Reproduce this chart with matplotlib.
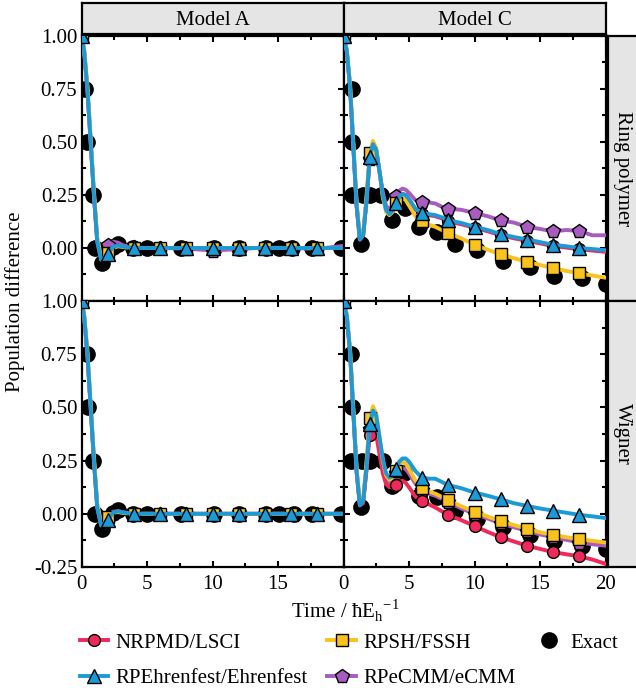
import matplotlib
matplotlib.use("Agg")
import matplotlib.pyplot as plt
from matplotlib.lines import Line2D

plt.rcParams['font.family'] = ['Liberation Serif', 'DejaVu Serif']
plt.rcParams['mathtext.fontset'] = 'custom'
plt.rcParams['mathtext.rm'] = 'Liberation Serif'
plt.rcParams['font.size'] = 15

# ---------------- data ----------------
models = ["Model A", "Model C"]
samplings = ["Ring polymer", "Wigner"]

# time grid of the method curves
t_A = [0, 0.2, 0.45, 0.7, 0.95, 1.2, 1.5, 1.8, 2.0, 2.4, 2.8, 3.2, 4, 5, 6, 8, 10, 12, 14, 16, 18, 20]
t_C = [0, 0.25, 0.5, 0.75, 1.0, 1.25, 1.5, 1.75, 2.0, 2.25, 2.5, 2.75, 3.0, 3.25, 3.5, 3.75,
       4.0, 4.25, 4.5, 4.75, 5.0, 5.5, 6.0, 6.5, 7.0, 7.5, 8, 9, 10, 11, 12, 13, 14, 15, 16, 17, 18, 19, 20]

# Model A, ring polymer
A_rp_nrpmd = [1.0, 0.93, 0.75, 0.5, 0.25, 0.03, -0.055, -0.045, -0.03, 0.005, 0.012, 0.006, 0, 0, 0, 0, 0, 0, 0, 0, 0, 0]
A_rp_rpsh = [1.0, 0.94, 0.77, 0.52, 0.27, 0.05, -0.045, -0.04, -0.025, 0.0, 0.008, 0.004, 0, 0, 0, 0, 0, 0, 0, 0, 0, 0]
A_rp_ehr = [1.0, 0.93, 0.75, 0.5, 0.25, 0.03, -0.055, -0.045, -0.03, 0.005, 0.012, 0.006, 0, 0, 0, 0, 0, 0, 0, 0, 0, 0]
A_rp_ecmm = [1.0, 0.93, 0.75, 0.5, 0.25, 0.04, -0.04, -0.01, 0.015, 0.03, 0.025, 0.012, 0.003, 0.0, 0.0,
             -0.003, -0.012, -0.005, 0.002, 0.0, -0.004, 0.01]
# Model A, Wigner
A_w_nrpmd = [1.0, 0.93, 0.75, 0.5, 0.25, 0.03, -0.055, -0.045, -0.03, 0.005, 0.012, 0.006, 0, 0, 0, 0, 0, 0, 0, 0, 0, 0]
A_w_rpsh = [1.0, 0.94, 0.77, 0.52, 0.27, 0.05, -0.04, -0.03, -0.015, 0.005, 0.008, 0.004, 0, 0, 0, 0, 0, 0, 0, 0, 0, 0]
A_w_ehr = [1.0, 0.93, 0.75, 0.5, 0.25, 0.03, -0.055, -0.045, -0.03, 0.005, 0.012, 0.006, 0, 0, 0, 0, 0, 0, 0, 0, 0, 0]
A_w_ecmm = [1.0, 0.93, 0.75, 0.5, 0.25, 0.035, -0.05, -0.035, -0.015, 0.01, 0.012, 0.006, 0, 0, 0, 0, 0, 0, 0, 0, 0, 0]

# Model C, ring polymer
C_rp_nrpmd = [1.0, 0.93, 0.76, 0.48, 0.2, 0.04, 0.06, 0.22, 0.42, 0.49, 0.46, 0.36, 0.25, 0.18, 0.16, 0.175,
              0.21, 0.24, 0.255, 0.25, 0.23, 0.18, 0.16, 0.155, 0.15, 0.14, 0.125, 0.112, 0.095, 0.079, 0.06,
              0.046, 0.034, 0.022, 0.009, 0.002, -0.006, -0.012, -0.018]
C_rp_rpsh = [1.0, 0.94, 0.78, 0.5, 0.22, 0.05, 0.07, 0.24, 0.45, 0.505, 0.47, 0.36, 0.24, 0.17, 0.155, 0.17,
             0.21, 0.235, 0.24, 0.225, 0.2, 0.15, 0.125, 0.11, 0.1, 0.085, 0.07, 0.045, 0.015, -0.008, -0.03,
             -0.048, -0.065, -0.08, -0.095, -0.108, -0.12, -0.13, -0.14]
C_rp_ehr = [1.0, 0.93, 0.76, 0.48, 0.2, 0.04, 0.06, 0.22, 0.43, 0.49, 0.46, 0.36, 0.25, 0.18, 0.16, 0.175,
            0.21, 0.24, 0.255, 0.25, 0.23, 0.185, 0.165, 0.16, 0.155, 0.145, 0.13, 0.118, 0.1, 0.085, 0.065,
            0.052, 0.04, 0.028, 0.015, 0.008, 0.0, -0.005, -0.01]
C_rp_ecmm = [1.0, 0.93, 0.76, 0.48, 0.2, 0.04, 0.06, 0.22, 0.42, 0.49, 0.46, 0.36, 0.26, 0.2, 0.18, 0.2,
             0.245, 0.27, 0.28, 0.275, 0.26, 0.225, 0.215, 0.215, 0.21, 0.195, 0.185, 0.18, 0.165, 0.15, 0.13,
             0.12, 0.1, 0.09, 0.078, 0.085, 0.08, 0.06, 0.06]
# Model C, Wigner
C_w_nrpmd = [1.0, 0.93, 0.76, 0.48, 0.2, 0.04, 0.05, 0.2, 0.37, 0.4, 0.37, 0.28, 0.19, 0.14, 0.125, 0.125,
             0.135, 0.15, 0.155, 0.145, 0.125, 0.08, 0.06, 0.045, 0.03, 0.012, -0.005, -0.03, -0.057, -0.085,
             -0.11, -0.13, -0.15, -0.165, -0.18, -0.19, -0.2, -0.215, -0.235]
C_w_rpsh = [1.0, 0.94, 0.78, 0.5, 0.22, 0.05, 0.07, 0.24, 0.45, 0.505, 0.47, 0.36, 0.25, 0.18, 0.16, 0.17,
            0.2, 0.23, 0.245, 0.235, 0.21, 0.155, 0.12, 0.105, 0.095, 0.08, 0.065, 0.035, 0.01, -0.013, -0.035,
            -0.053, -0.07, -0.087, -0.1, -0.11, -0.12, -0.127, -0.135]
C_w_ehr = [1.0, 0.93, 0.76, 0.48, 0.2, 0.04, 0.06, 0.22, 0.42, 0.485, 0.46, 0.36, 0.26, 0.19, 0.17, 0.18,
           0.21, 0.245, 0.26, 0.26, 0.245, 0.2, 0.17, 0.165, 0.165, 0.15, 0.135, 0.12, 0.1, 0.085, 0.068,
           0.05, 0.037, 0.025, 0.015, 0.005, -0.005, -0.012, -0.02]
C_w_ecmm = [1.0, 0.93, 0.76, 0.48, 0.2, 0.04, 0.06, 0.21, 0.4, 0.46, 0.43, 0.33, 0.22, 0.16, 0.145, 0.16,
            0.19, 0.21, 0.215, 0.21, 0.19, 0.14, 0.11, 0.095, 0.085, 0.07, 0.055, 0.025, 0.0, -0.022, -0.045,
            -0.063, -0.08, -0.097, -0.11, -0.122, -0.135, -0.143, -0.15]

# exact results
A_rp_exact_t = [0.3, 0.4, 0.9, 1.0, 1.6, 2.4, 2.75, 3.9, 5.0, 7.6, 10.1, 12, 14.1, 15.1, 16.1, 17.6, 19.8]
A_rp_exact = [0.75, 0.5, 0.25, 0.0, -0.07, 0.005, 0.02, 0, 0, 0, 0, 0, 0, 0, 0, 0, 0]
A_w_exact_t = [0.4, 0.5, 0.9, 1.0, 1.6, 2.4, 2.75, 3.9, 5.0, 7.6, 10.1, 12, 14.1, 15.1, 16.2, 17.6, 19.8]
A_w_exact = [0.75, 0.5, 0.25, 0.0, -0.07, 0.005, 0.02, 0, 0, 0, 0, 0, 0, 0, 0, 0, 0]
C_rp_exact_t = [0.65, 0.65, 0.65, 1.3, 1.5, 2.0, 2.9, 3.7, 4.7, 5.8, 7.1, 8.5, 10.2, 12.2, 14.2, 16.1, 18.2, 20]
C_rp_exact = [0.75, 0.5, 0.25, 0.02, 0.25, 0.25, 0.25, 0.13, 0.19, 0.1, 0.075, 0.02, -0.01, -0.06, -0.09,
              -0.13, -0.14, -0.17]
C_w_exact_t = [0.55, 0.65, 0.55, 1.3, 1.4, 2.0, 3.0, 3.7, 4.6, 5.8, 7.1, 8.5, 10.2, 12.2, 14.2, 16.1, 18.2, 20]
C_w_exact = [0.75, 0.5, 0.25, 0.03, 0.25, 0.25, 0.25, 0.13, 0.19, 0.085, 0.08, 0.015, -0.025, -0.06, -0.1,
             -0.13, -0.15, -0.165]

methods = ["NRPMD/LSCI", "RPSH/FSSH", "RPEhrenfest/Ehrenfest", "RPeCMM/eCMM"]
colors = {"NRPMD/LSCI": "#f0285c", "RPSH/FSSH": "#f9c21c",
          "RPEhrenfest/Ehrenfest": "#1b9ad8", "RPeCMM/eCMM": "#a85cbf"}
markers = {"NRPMD/LSCI": ("o", 8.5), "RPSH/FSSH": ("s", 8.5),
           "RPEhrenfest/Ehrenfest": ("^", 9.5), "RPeCMM/eCMM": ("p", 10)}
# drawing order (bottom -> top)
draw_order = ["RPeCMM/eCMM", "NRPMD/LSCI", "RPSH/FSSH", "RPEhrenfest/Ehrenfest"]

panels = {
    (0, 0): (t_A, {"NRPMD/LSCI": A_rp_nrpmd, "RPSH/FSSH": A_rp_rpsh,
                   "RPEhrenfest/Ehrenfest": A_rp_ehr, "RPeCMM/eCMM": A_rp_ecmm}, A_rp_exact_t, A_rp_exact),
    (0, 1): (t_C, {"NRPMD/LSCI": C_rp_nrpmd, "RPSH/FSSH": C_rp_rpsh,
                   "RPEhrenfest/Ehrenfest": C_rp_ehr, "RPeCMM/eCMM": C_rp_ecmm}, C_rp_exact_t, C_rp_exact),
    (1, 0): (t_A, {"NRPMD/LSCI": A_w_nrpmd, "RPSH/FSSH": A_w_rpsh,
                   "RPEhrenfest/Ehrenfest": A_w_ehr, "RPeCMM/eCMM": A_w_ecmm}, A_w_exact_t, A_w_exact),
    (1, 1): (t_C, {"NRPMD/LSCI": C_w_nrpmd, "RPSH/FSSH": C_w_rpsh,
                   "RPEhrenfest/Ehrenfest": C_w_ehr, "RPeCMM/eCMM": C_w_ecmm}, C_w_exact_t, C_w_exact),
}

y_ticks = [-0.25, 0.0, 0.25, 0.5, 0.75, 1.0]
y_labels = ["-0.25", "0.00", "0.25", "0.50", "0.75", "1.00"]
x_ticks = [0, 5, 10, 15, 20]

# ---------------- layout (pixels) ----------------
W, H = 636, 694


def box(x0, y0, x1, y1):
    return [x0 / W, 1 - y1 / H, (x1 - x0) / W, (y1 - y0) / H]


col_x = [(81.5, 343.5), (343.5, 605.5)]
row_y = [(36, 301), (301, 567)]
strip_bg = "#e5e5e5"

fig = plt.figure(figsize=(W / 100, H / 100), dpi=100)

for (r, c), (tt, series, et, ev) in panels.items():
    x0, x1 = col_x[c]
    y0, y1 = row_y[r]
    ax = fig.add_axes(box(x0, y0, x1, y1))
    ax.plot(et, ev, linestyle="none", marker="o", markersize=11, color="black", zorder=2)
    mark_idx = [i for i, t in enumerate(tt) if t % 2 == 0 and t < 20]
    for k, m in enumerate(draw_order):
        mk, ms = markers[m]
        ax.plot(tt, series[m], color=colors[m], lw=2.8, marker=mk, markersize=ms,
                markevery=mark_idx, markerfacecolor=colors[m], markeredgecolor="black",
                markeredgewidth=1.0, zorder=3 + k)
    ax.set_xlim(0, 20)
    ax.set_ylim(-0.25, 1.0)
    ax.set_xticks(x_ticks)
    ax.set_xticks([2.5, 7.5, 12.5, 17.5], minor=True)
    ax.set_yticks(y_ticks)
    ax.set_yticks([-0.125, 0.125, 0.375, 0.625, 0.875], minor=True)
    ax.tick_params(which="both", direction="in", top=True, right=True, width=1.5)
    ax.tick_params(which="major", length=4.5)
    ax.tick_params(which="minor", length=3)
    ax.tick_params(axis="y", pad=3)
    ax.tick_params(axis="x", pad=6)
    for s in ax.spines.values():
        s.set_linewidth(1.6)
    if c == 0:
        labs = list(y_labels)
        if r == 0:
            labs[0] = ""
        ax.set_yticklabels(labs)
    else:
        ax.set_yticklabels([])
    if r == 1:
        xl = [str(v) for v in x_ticks]
        if c == 0:
            xl[-1] = ""
        ax.set_xticklabels(xl)
    else:
        ax.set_xticklabels([])

# strips
for c, name in enumerate(models):
    x0, x1 = col_x[c]
    sax = fig.add_axes(box(x0, 3, x1, 34))
    sax.set_facecolor(strip_bg)
    sax.set_xticks([])
    sax.set_yticks([])
    for s in sax.spines.values():
        s.set_linewidth(1.6)
    sax.text(0.5, 0.45, name, ha="center", va="center", transform=sax.transAxes)

for r, name in enumerate(samplings):
    y0, y1 = row_y[r]
    sax = fig.add_axes(box(608, y0, 640, y1))
    sax.set_facecolor(strip_bg)
    sax.set_xticks([])
    sax.set_yticks([])
    for s in sax.spines.values():
        s.set_linewidth(1.6)
    sax.text(0.45, 0.5, name, ha="center", va="center", rotation=-90, transform=sax.transAxes)

fig.text(15 / W, 1 - 302 / H, "Population difference", rotation=90, ha="center", va="center")
fig.text(345 / W, 1 - 611 / H, r"Time / ħE$_\mathrm{h}$$^{-1}$", ha="center", va="center")

# legend
handles = {}
for m in methods:
    mk, ms = markers[m]
    handles[m] = Line2D([], [], color=colors[m], lw=2.8, marker=mk, markersize=ms,
                        markerfacecolor=colors[m], markeredgecolor="black", markeredgewidth=1.0)
handles["Exact"] = Line2D([], [], linestyle="none", marker="o", markersize=11, color="black")
order = ["NRPMD/LSCI", "RPEhrenfest/Ehrenfest", "RPSH/FSSH", "RPeCMM/eCMM", "Exact"]
fig.legend([handles[k] for k in order], order, loc="upper left",
           bbox_to_anchor=(80 / W, 1 - 633 / H), ncol=3, frameon=False,
           handlelength=1.35, handletextpad=0.35, columnspacing=0.95, labelspacing=0.75,
           borderaxespad=0, borderpad=0)

fig.savefig("out.png", dpi=100)
